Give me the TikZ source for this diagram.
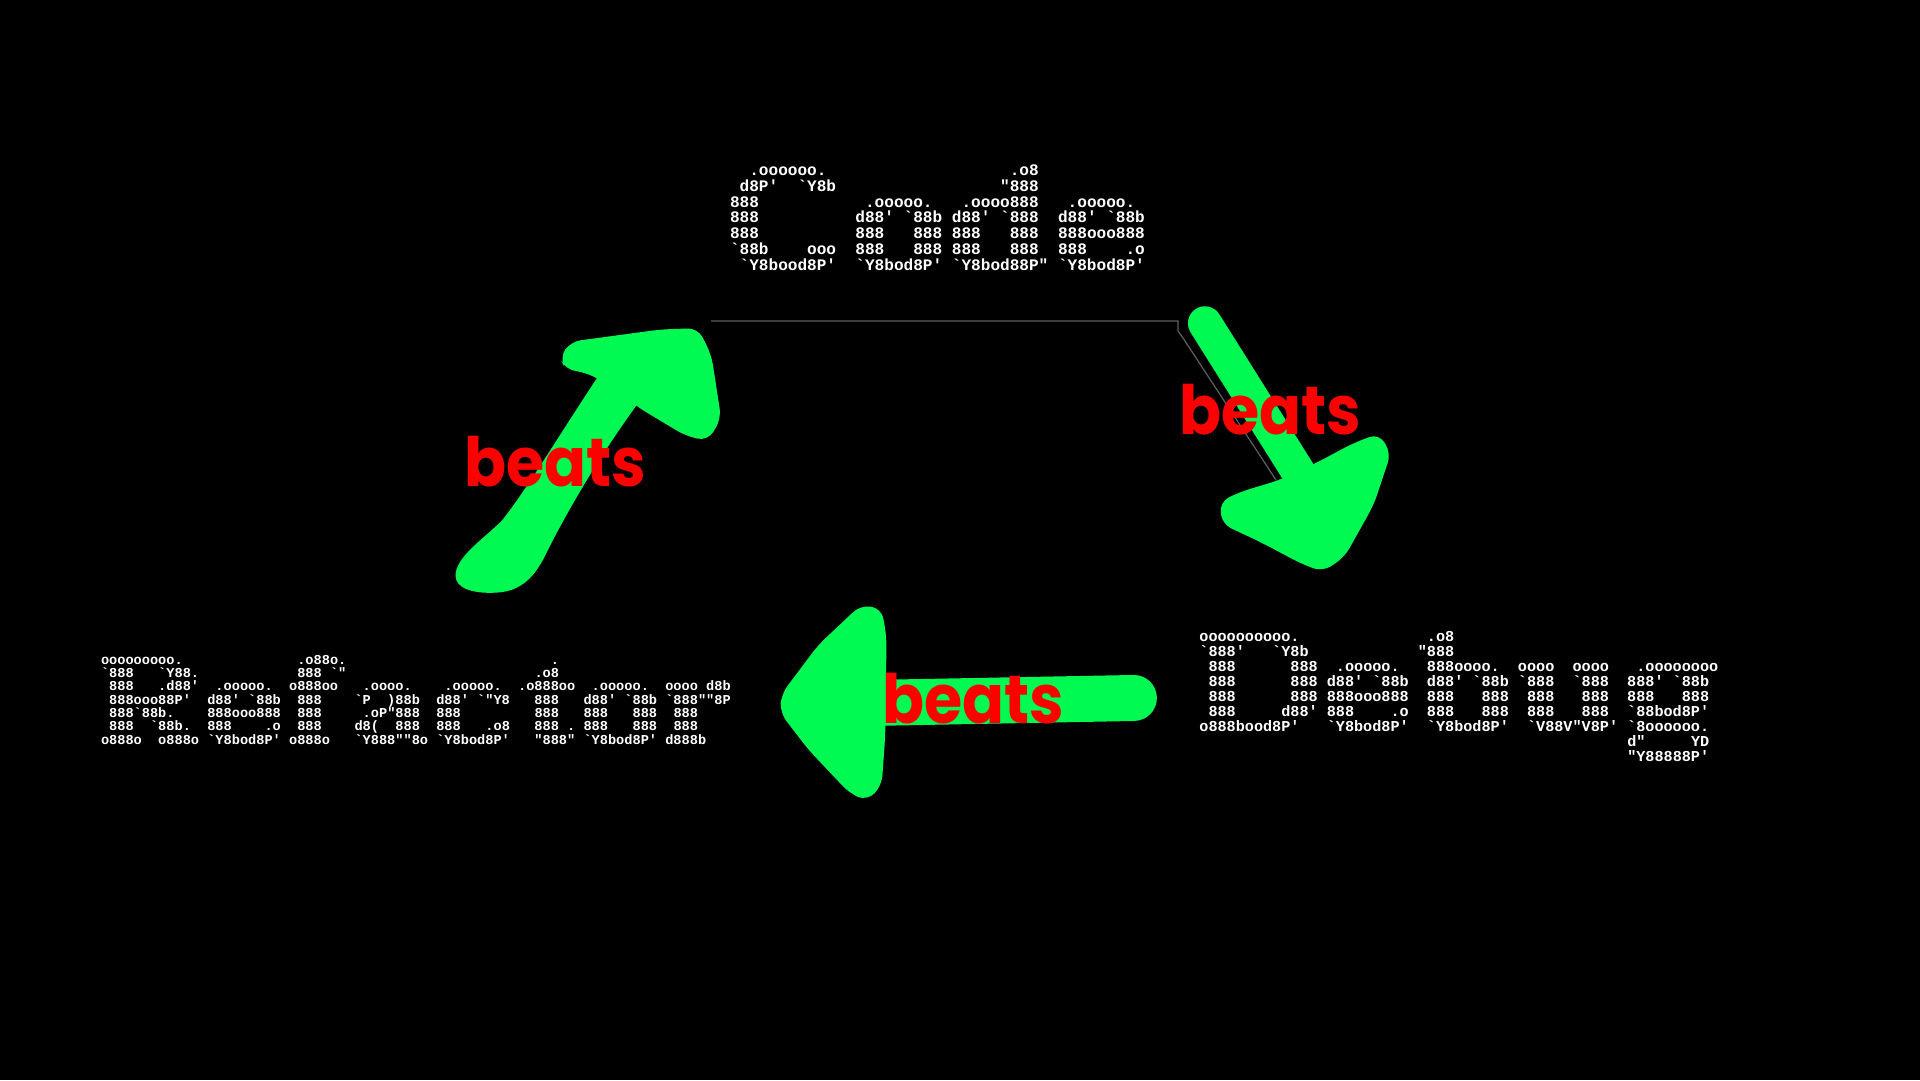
\documentclass[tikz,border=0pt]{standalone}
\usepackage{fontspec}
\newfontfamily\asciifont{Liberation Mono}
\newfontfamily\beatsfont{Poppins}
\definecolor{arrowgreen}{RGB}{0,250,82}
\definecolor{beatsred}{RGB}{255,0,0}
\definecolor{thinline}{RGB}{95,95,95}
\newcommand\asp[1]{\hskip#1\fontcharwd\font`\o\relax}
\newcommand\AL[1]{\hbox{#1}}
\newcommand\beatsword{\scalebox{0.91}[1]{beats}}
\tikzset{
  art/.style={anchor=base west, inner sep=0pt, outer sep=0pt, text=white},
  beatslabel/.style={anchor=base west, inner sep=0pt, text=beatsred,
    font=\beatsfont\bfseries\fontsize{68}{68}\selectfont},
  greenstroke/.style={draw=arrowgreen, line cap=round, line join=round},
  greenhead/.style={fill=arrowgreen, rounded corners=10pt}
}
\begin{document}
\begin{tikzpicture}[x=1pt,y=-1pt]
\useasboundingbox (0,0) rectangle (1920,1080);
\fill[black] (0,0) rectangle (1920,1080);

% faint outline line
\draw[thinline, line width=1.2pt] (711,321) -- (1178,321) -- (1178,331) -- (1183,338) -- (1276,480);

% arrows (drawn in the coordinates of the 1568 wide view)
\begin{scope}[scale=1.2245]
  % top-left arrow
  \fill[arrowgreen] (372,470) .. controls (372,455) and (395,440) .. (410,425)
     .. controls (430,400) and (460,350) .. (492,302) -- (522,328)
     .. controls (495,365) and (470,405) .. (448,448)
     .. controls (440,465) and (430,483) .. (405,484)
     .. controls (385,485) and (372,480) .. (372,470) -- cycle;
  \fill[greenhead] (457,292) -- (466,279) -- (540,269) -- (570,268) -- (581,290) -- (589,342)
     -- (578,360) -- (560,356) -- (520,332) -- (505,318) -- (478,304) -- (462,302) -- cycle;
  % right arrow
  \draw[greenstroke, line width=34pt] (984,264) -- (1060,385);
  \fill[greenhead] (996,410) -- (1012,402) -- (1045,392) -- (1075,378) -- (1105,362) -- (1126,354)
     -- (1136,370) -- (1122,412) -- (1098,455) -- (1080,467) -- (1062,460) -- (1030,443) -- (998,428) -- cycle;
  % bottom arrow
  \draw[greenstroke, line width=46pt] (926,570) -- (715,574);
  \fill[greenhead] (703,494) -- (720,497) -- (724,520) -- (723,600) -- (720,642) -- (708,654)
     -- (694,648) -- (660,612) -- (637,582) -- (638,567) -- (668,527) -- cycle;
\end{scope}

% beats labels
\node[beatslabel] (beatsA) at (464.5,486) {\beatsword};
\node[beatslabel] (beatsB) at (1179,434.5) {\beatsword};
\node[beatslabel] (beatsC) at (882.5,723.7) {\beatsword};

% Code
\node[art] (code) at (730,175.4) {\asciifont\bfseries\fontsize{16.08}{15.8}\selectfont
\vtop{\baselineskip=15.8pt\lineskiplimit=-\maxdimen
\AL{\asp{2}.oooooo.\asp{19}.o8}
\AL{\asp{1}d8P'\asp{2}`Y8b\asp{17}"888}
\AL{888\asp{11}.ooooo.\asp{3}.oooo888\asp{3}.ooooo.}
\AL{888\asp{10}d88'\asp{1}`88b\asp{1}d88'\asp{1}`888\asp{2}d88'\asp{1}`88b}
\AL{888\asp{10}888\asp{3}888\asp{1}888\asp{3}888\asp{2}888ooo888}
\AL{`88b\asp{4}ooo\asp{2}888\asp{3}888\asp{1}888\asp{3}888\asp{2}888\asp{4}.o}
\AL{\asp{1}`Y8bood8P'\asp{2}`Y8bod8P'\asp{1}`Y8bod88P"\asp{1}`Y8bod8P'}
}};

% Refactor
\node[art] (refactor) at (101,664.05) {\asciifont\bfseries\fontsize{13.63}{13.35}\selectfont
\vtop{\baselineskip=13.35pt\lineskiplimit=-\maxdimen
\AL{ooooooooo.\asp{14}.o88o.\asp{25}.}
\AL{`888\asp{3}`Y88.\asp{12}888\asp{1}`"\asp{23}.o8}
\AL{\asp{1}888\asp{3}.d88'\asp{2}.ooooo.\asp{2}o888oo\asp{3}.oooo.\asp{4}.ooooo.\asp{2}.o888oo\asp{2}.ooooo.\asp{2}oooo\asp{1}d8b}
\AL{\asp{1}888ooo88P'\asp{2}d88'\asp{1}`88b\asp{2}888\asp{4}`P\asp{2})88b\asp{2}d88'\asp{1}`"Y8\asp{3}888\asp{3}d88'\asp{1}`88b\asp{1}`888""8P}
\AL{\asp{1}888`88b.\asp{4}888ooo888\asp{2}888\asp{5}.oP"888\asp{2}888\asp{9}888\asp{3}888\asp{3}888\asp{2}888}
\AL{\asp{1}888\asp{2}`88b.\asp{2}888\asp{4}.o\asp{2}888\asp{4}d8(\asp{2}888\asp{2}888\asp{3}.o8\asp{3}888\asp{1}.\asp{1}888\asp{3}888\asp{2}888}
\AL{o888o\asp{2}o888o\asp{1}`Y8bod8P'\asp{1}o888o\asp{3}`Y888""8o\asp{1}`Y8bod8P'\asp{3}"888"\asp{1}`Y8bod8P'\asp{1}d888b}
}};

% Debug
\node[art] (debug) at (1199.4,641.9) {\asciifont\bfseries\fontsize{15.17}{15}\selectfont
\vtop{\baselineskip=15pt\lineskiplimit=-\maxdimen
\AL{oooooooooo.\asp{14}.o8}
\AL{`888'\asp{3}`Y8b\asp{12}"888}
\AL{\asp{1}888\asp{6}888\asp{2}.ooooo.\asp{3}888oooo.\asp{2}oooo\asp{2}oooo\asp{3}.oooooooo}
\AL{\asp{1}888\asp{6}888\asp{1}d88'\asp{1}`88b\asp{2}d88'\asp{1}`88b\asp{1}`888\asp{2}`888\asp{2}888'\asp{1}`88b}
\AL{\asp{1}888\asp{6}888\asp{1}888ooo888\asp{2}888\asp{3}888\asp{2}888\asp{3}888\asp{2}888\asp{3}888}
\AL{\asp{1}888\asp{5}d88'\asp{1}888\asp{4}.o\asp{2}888\asp{3}888\asp{2}888\asp{3}888\asp{2}`88bod8P'}
\AL{o888bood8P'\asp{3}`Y8bod8P'\asp{2}`Y8bod8P'\asp{2}`V88V"V8P'\asp{1}`8oooooo.}
\AL{\asp{47}d"\asp{5}YD}
\AL{\asp{47}"Y88888P'}
}};
\end{tikzpicture}
\end{document}
